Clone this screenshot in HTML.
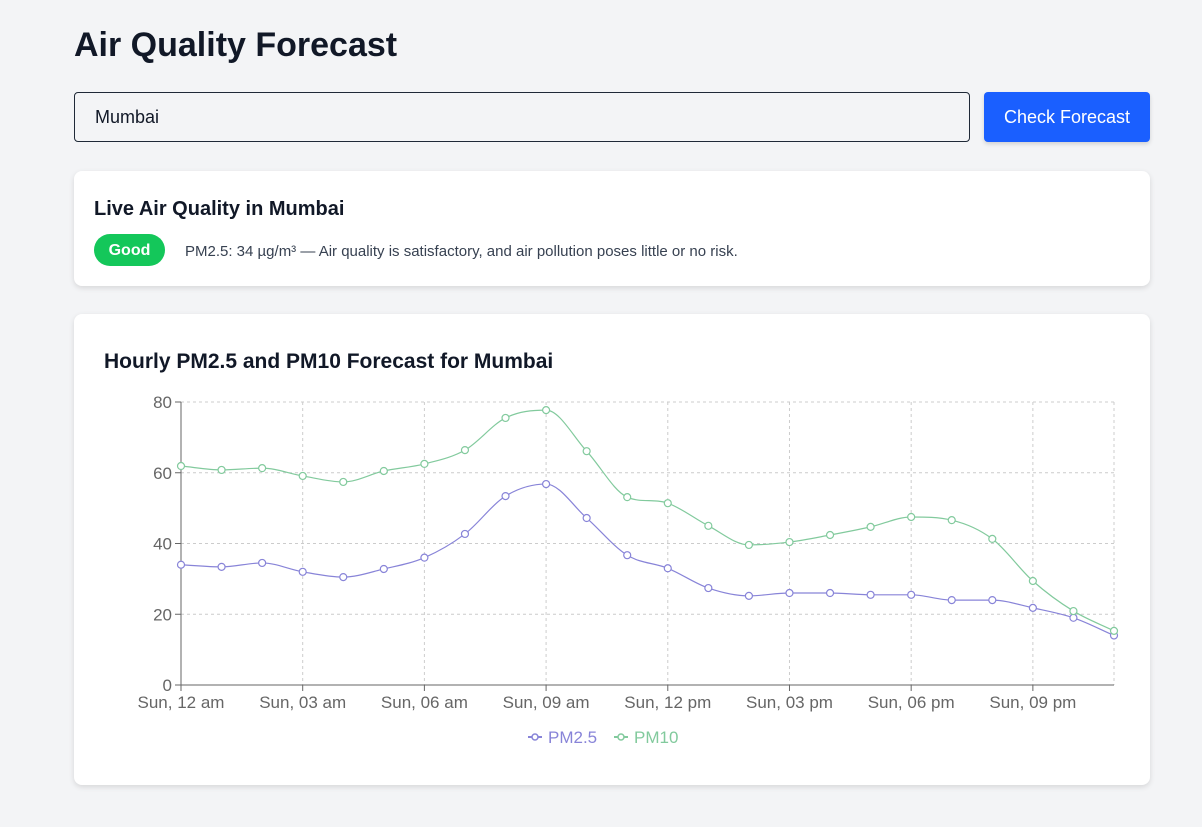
<!DOCTYPE html>
<html><head><meta charset="utf-8">
<style>
body{margin:0;background:#f3f4f6;font-family:"Liberation Sans",sans-serif;color:#111827;width:1202px;height:827px;overflow:hidden;position:relative}
h1{position:absolute;left:74px;top:26px;margin:0;font-size:34px;font-weight:700;color:#111827}
.input{position:absolute;left:74px;top:92px;border:1px solid #1f2937;border-radius:4px;background:#f3f4f6;font-size:18px;line-height:48px;padding-left:20px;box-sizing:border-box;width:896px;height:50px}
.btn{position:absolute;left:984px;top:92px;width:166px;height:50px;background:#1a5fff;color:#fff;border-radius:4px;font-size:18px;line-height:50px;text-align:center;box-shadow:0 2px 4px rgba(0,0,0,.15)}
.card{position:absolute;left:74px;width:1076px;background:#fff;border-radius:8px;box-shadow:0 2px 6px rgba(0,0,0,.12)}
.c1{top:171px;height:115px}
.c2{top:314px;height:471px}
.c1 h2{position:absolute;left:20px;top:27px;margin:0;font-size:20px;font-weight:700}
.badge{position:absolute;left:20px;top:63px;width:71px;height:32px;border-radius:16px;background:#14c75a;color:#fff;font-weight:700;font-size:16px;line-height:34px;text-align:center}
.msg{position:absolute;left:111px;top:72px;font-size:15px;color:#374151}
.c2 h2{position:absolute;left:30px;top:36px;margin:0;font-size:21px;font-weight:700}
svg{position:absolute;left:0;top:0}
</style></head><body>
<h1>Air Quality Forecast</h1>
<div class="input">Mumbai</div>
<div class="btn">Check Forecast</div>
<div class="card c1">
<h2>Live Air Quality in Mumbai</h2>
<div class="badge">Good</div>
<div class="msg">PM2.5: 34 µg/m³ — Air quality is satisfactory, and air pollution poses little or no risk.</div>
</div>
<div class="card c2">
<h2>Hourly PM2.5 and PM10 Forecast for Mumbai</h2>
</div>
<svg id="chart" width="1202" height="827"></svg>
<script>
const hours=[...Array(24).keys()];
const pm25=[34,33.4,34.5,32,30.5,32.8,36,42.7,53.4,56.8,47.2,36.7,33,27.4,25.2,26,26,25.5,25.5,24,24,21.8,19,14];
const pm10=[61.9,60.8,61.3,59.1,57.4,60.5,62.5,66.4,75.5,77.7,66.1,53.1,51.4,45,39.6,40.4,42.4,44.7,47.5,46.6,41.3,29.4,20.9,15.3];
const yTicks=[0,20,40,60,80];
const xTickLabels=["Sun, 12 am","Sun, 03 am","Sun, 06 am","Sun, 09 am","Sun, 12 pm","Sun, 03 pm","Sun, 06 pm","Sun, 09 pm"];
const X0=181,X1=1114,Y0=685,Y1=402;
const xs=h=>X0+h*(X1-X0)/23;
const ys=v=>Y0-v*(Y0-Y1)/80;
const svg=document.getElementById('chart');
const NS="http://www.w3.org/2000/svg";
function mk(t,a,p){const e=document.createElementNS(NS,t);for(const k in a)e.setAttribute(k,a[k]);(p||svg).appendChild(e);return e;}
yTicks.forEach(v=>{if(v>0){const l=mk('line',{x1:X0,x2:X1,y1:ys(v),y2:ys(v),stroke:'#ccc','stroke-dasharray':'3 3'});}
const t=mk('text',{x:X0-9,y:ys(v)+6,'text-anchor':'end','font-size':17,fill:'#666','font-family':'Liberation Sans, sans-serif'});t.textContent=v;
mk('line',{x1:X0-6,x2:X0,y1:ys(v),y2:ys(v),stroke:'#666'});});
xTickLabels.forEach((s,i)=>{const x=xs(i*3);
if(i>0){const l=mk('line',{x1:x,x2:x,y1:Y1,y2:Y0,stroke:'#ccc','stroke-dasharray':'3 3'});}
mk('line',{x1:x,x2:x,y1:Y0,y2:Y0+6,stroke:'#666'});
const t=mk('text',{x:x,y:Y0+23,'text-anchor':'middle','font-size':17,fill:'#666','font-family':'Liberation Sans, sans-serif'});t.textContent=s;});
mk('line',{x1:X1,x2:X1,y1:Y1,y2:Y0,stroke:'#ccc','stroke-dasharray':'3 3'});
mk('line',{x1:X0,x2:X1,y1:Y1,y2:Y1,stroke:'#ccc','stroke-dasharray':'3 3'});
mk('line',{x1:X0,x2:X0,y1:Y1,y2:Y0,stroke:'#666'});
mk('line',{x1:X0,x2:X1,y1:Y0,y2:Y0,stroke:'#666'});
function monotone(pts){const n=pts.length,d=[],m=[];for(let i=0;i<n-1;i++)d.push((pts[i+1][1]-pts[i][1])/(pts[i+1][0]-pts[i][0]));
m[0]=d[0];m[n-1]=d[n-2];
for(let i=1;i<n-1;i++){if(d[i-1]*d[i]<=0)m[i]=0;else{m[i]=(d[i-1]+d[i])/2;const a=m[i]/d[i-1],b=m[i]/d[i];if(a>3||b>3){m[i]=Math.sign(m[i])*Math.min(3*Math.abs(d[i-1]),3*Math.abs(d[i]));}}}
let s=`M${pts[0][0]},${pts[0][1]}`;for(let i=0;i<n-1;i++){const h=(pts[i+1][0]-pts[i][0])/3;s+=`C${pts[i][0]+h},${pts[i][1]+m[i]*h} ${pts[i+1][0]-h},${pts[i+1][1]-m[i+1]*h} ${pts[i+1][0]},${pts[i+1][1]}`;}return s;}
function series(vals,color,name){const pts=hours.map(h=>[xs(h),ys(vals[h])]);
const p=mk('path',{d:monotone(pts),fill:'none',stroke:color,'stroke-width':1.2});
pts.forEach(q=>{const c=mk('circle',{cx:q[0],cy:q[1],r:3.5,fill:'#fff',stroke:color,'stroke-width':1.2});});}
series(pm25,'#8884d8','pm25');
series(pm10,'#82ca9d','pm10');
function legend(x,color,label,name){const g=mk('g',{});
mk('line',{x1:x,x2:x+14,y1:737,y2:737,stroke:color,'stroke-width':2},g);mk('circle',{cx:x+7,cy:737,r:3,fill:'#fff',stroke:color,'stroke-width':1.5},g);
const t=mk('text',{x:x+20,y:743,'font-size':17,fill:color,'font-family':'Liberation Sans, sans-serif'},g);t.textContent=label;}
legend(528,'#8884d8','PM2.5','legend-entry-pm25');
legend(614,'#82ca9d','PM10','legend-entry-pm10');
</script>
</body></html>
